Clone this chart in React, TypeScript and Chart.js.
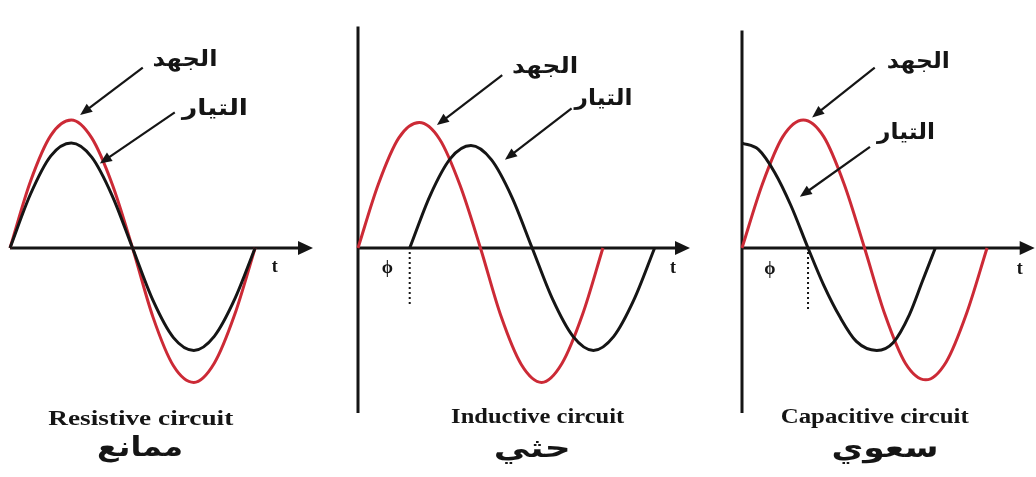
import React, { useEffect, useRef } from "react";
import { Chart, registerables } from "chart.js";

Chart.register(...registerables);

// ---- data (phase angle in degrees, amplitude in relative units) ----
const resistiveT = [0, 30, 60, 90, 120, 150, 180, 210, 240, 270, 300, 330, 360];
const resistiveVoltage = [0, 0.52, 0.88, 1.0, 0.86, 0.5, 0, -0.54, -0.92, -1.05, -0.9, -0.52, 0];
const resistiveCurrentT = [0, 30, 60, 90, 120, 150, 180, 210, 240, 270, 300, 330, 360];
const resistiveCurrent = [0, 0.42, 0.72, 0.82, 0.71, 0.41, 0, -0.41, -0.7, -0.8, -0.69, -0.4, 0];

const inductiveT = [0, 30, 60, 90, 120, 150, 180, 210, 240, 270, 300, 330, 360];
const inductiveVoltage = [0, 0.5, 0.86, 0.98, 0.85, 0.49, 0, -0.53, -0.91, -1.05, -0.9, -0.52, 0];
const inductiveCurrentT = [76, 106, 136, 166, 196, 226, 256, 286, 316, 346, 376, 406, 436];
const inductiveCurrent = [0, 0.41, 0.7, 0.8, 0.69, 0.4, 0, -0.4, -0.69, -0.8, -0.69, -0.4, 0];

const capacitiveT = [0, 30, 60, 90, 120, 150, 180, 210, 240, 270, 300, 330, 360];
const capacitiveVoltage = [0, 0.5, 0.87, 1.0, 0.87, 0.5, 0, -0.52, -0.9, -1.03, -0.89, -0.51, 0];
const capacitiveCurrentT = [0, 24, 48, 72, 97, 120, 144, 168, 198, 222, 246, 265, 284];
const capacitiveCurrent = [0.82, 0.77, 0.59, 0.33, 0, -0.29, -0.54, -0.73, -0.8, -0.74, -0.52, -0.26, 0];

const voltageLabel = "الجهد";
const currentLabel = "التيار";
const captions = ["Resistive circuit", "Inductive circuit", "Capacitive circuit"];
const arabicCaptions = ["ممانع", "حثي", "سعوي"];

const RED = "#cc2a36";
const BLACK = "#151515";

type Pt = [number, number];
type PanelCfg = {
  left: number;
  width: number;
  padding: { left: number; right: number; top: number; bottom: number };
  xMax: number;
  yAxis: null | [number, number];
  phi: null | { labelT: number; dotT: number; dotBottom: number };
  tLabel: Pt;
  vLabel: { at: Pt; w: number; from: Pt; to: Pt };
  iLabel: { at: Pt; w: number; from: Pt; to: Pt };
  caption: { at: Pt; w: number };
  arCaption: { at: Pt; w: number };
  vT: number[];
  v: number[];
  iT: number[];
  i: number[];
};

const panels: PanelCfg[] = [
  {
    left: 0,
    width: 345,
    padding: { left: 10, right: 32, top: 4.8, bottom: 24.2 },
    xMax: 445,
    yAxis: null,
    phi: null,
    tLabel: [389, -0.15],
    vLabel: { at: [257, 1.47], w: 65, from: [195, 1.41], to: [103, 1.04] },
    iLabel: { at: [301, 1.08], w: 66, from: [242, 1.06], to: [132, 0.66] },
    caption: { at: [192, -1.34], w: 185 },
    arCaption: { at: [191, -1.57], w: 86 },
    vT: resistiveT,
    v: resistiveVoltage,
    iT: resistiveCurrentT,
    i: resistiveCurrent,
  },
  {
    left: 340,
    width: 360,
    padding: { left: 18, right: 10, top: 4.8, bottom: 24.2 },
    xMax: 488,
    yAxis: [1.73, -1.29],
    phi: { labelT: 43, dotT: 76, dotBottom: -0.45 },
    tLabel: [463, -0.16],
    vLabel: { at: [275, 1.41], w: 66, from: [212, 1.35], to: [116, 0.96] },
    iLabel: { at: [361, 1.16], w: 58, from: [314, 1.09], to: [216, 0.69] },
    caption: { at: [264, -1.33], w: 173 },
    arCaption: { at: [256, -1.58], w: 77 },
    vT: inductiveT,
    v: inductiveVoltage,
    iT: inductiveCurrentT,
    i: inductiveCurrent,
  },
  {
    left: 725,
    width: 311,
    padding: { left: 17, right: 1.3, top: 4.8, bottom: 24.2 },
    xMax: 430,
    yAxis: [1.7, -1.29],
    phi: { labelT: 41, dotT: 97, dotBottom: -0.48 },
    tLabel: [408, -0.17],
    vLabel: { at: [259, 1.45], w: 63, from: [195, 1.41], to: [103, 1.02] },
    iLabel: { at: [241, 0.9], w: 58, from: [188, 0.79], to: [85, 0.4] },
    caption: { at: [195, -1.33], w: 188 },
    arCaption: { at: [210, -1.58], w: 107 },
    vT: capacitiveT,
    v: capacitiveVoltage,
    iT: capacitiveCurrentT,
    i: capacitiveCurrent,
  },
];

function fittedText(
  ctx: CanvasRenderingContext2D,
  text: string,
  cx: number,
  cy: number,
  w: number,
  font: string
) {
  ctx.save();
  ctx.font = font;
  ctx.textAlign = "center";
  ctx.textBaseline = "middle";
  const m = ctx.measureText(text).width || 1;
  ctx.translate(cx, cy);
  ctx.scale(w / m, 1);
  ctx.fillStyle = BLACK;
  ctx.fillText(text, 0, 0);
  ctx.restore();
}

function arrow(ctx: CanvasRenderingContext2D, x1: number, y1: number, x2: number, y2: number) {
  const ang = Math.atan2(y2 - y1, x2 - x1);
  const hl = 12;
  const hw = 5;
  ctx.save();
  ctx.strokeStyle = BLACK;
  ctx.fillStyle = BLACK;
  ctx.lineWidth = 2.2;
  ctx.beginPath();
  ctx.moveTo(x1, y1);
  ctx.lineTo(x2 - Math.cos(ang) * hl * 0.8, y2 - Math.sin(ang) * hl * 0.8);
  ctx.stroke();
  ctx.beginPath();
  ctx.moveTo(x2, y2);
  ctx.lineTo(x2 - Math.cos(ang) * hl + Math.sin(ang) * hw, y2 - Math.sin(ang) * hl - Math.cos(ang) * hw);
  ctx.lineTo(x2 - Math.cos(ang) * hl - Math.sin(ang) * hw, y2 - Math.sin(ang) * hl + Math.cos(ang) * hw);
  ctx.closePath();
  ctx.fill();
  ctx.restore();
}

function Panel({ cfg, idx }: { cfg: PanelCfg; idx: number }) {
  const ref = useRef<HTMLCanvasElement | null>(null);
  useEffect(() => {
    if (!ref.current) return;
    const plugin = {
      id: "diagram" + idx,
      beforeDatasetsDraw(chart: any) {
        const ctx: CanvasRenderingContext2D = chart.ctx;
        const xs = chart.scales.x;
        const ys = chart.scales.y;
        const y0 = ys.getPixelForValue(0);
        const x0 = xs.getPixelForValue(0);
        const xe = xs.getPixelForValue(cfg.xMax);
        ctx.save();
        ctx.strokeStyle = BLACK;
        ctx.fillStyle = BLACK;
        ctx.lineWidth = 3;
        ctx.beginPath();
        ctx.moveTo(x0, y0);
        ctx.lineTo(xe - 10, y0);
        ctx.stroke();
        ctx.beginPath();
        ctx.moveTo(xe, y0);
        ctx.lineTo(xe - 15, y0 - 7);
        ctx.lineTo(xe - 15, y0 + 7);
        ctx.closePath();
        ctx.fill();
        if (cfg.yAxis) {
          ctx.beginPath();
          ctx.moveTo(x0, ys.getPixelForValue(cfg.yAxis[0]));
          ctx.lineTo(x0, ys.getPixelForValue(cfg.yAxis[1]));
          ctx.stroke();
        }
        if (cfg.phi) {
          const xd = xs.getPixelForValue(cfg.phi.dotT);
          ctx.lineWidth = 2;
          ctx.setLineDash([2, 3]);
          ctx.beginPath();
          ctx.moveTo(xd, y0 + 4);
          ctx.lineTo(xd, ys.getPixelForValue(cfg.phi.dotBottom));
          ctx.stroke();
          ctx.setLineDash([]);
        }
        ctx.restore();
      },
      afterDatasetsDraw(chart: any) {
        const ctx: CanvasRenderingContext2D = chart.ctx;
        const xs = chart.scales.x;
        const ys = chart.scales.y;
        const P = (p: Pt): Pt => [xs.getPixelForValue(p[0]), ys.getPixelForValue(p[1])];
        const serif = "'Liberation Serif', 'DejaVu Serif', serif";
        const ar = "'DejaVu Sans', 'Noto Sans', sans-serif";
        const tp = P(cfg.tLabel);
        ctx.save();
        ctx.fillStyle = BLACK;
        ctx.font = "bold 18px " + serif;
        ctx.textAlign = "center";
        ctx.textBaseline = "middle";
        ctx.fillText("t", tp[0], tp[1]);
        if (cfg.phi) {
          const pp = P([cfg.phi.labelT, cfg.tLabel[1]]);
          ctx.font = "bold 18px " + serif;
          ctx.fillText("ϕ", pp[0], pp[1]);
        }
        ctx.restore();
        for (const l of [cfg.vLabel, cfg.iLabel]) {
          const a = P(l.at);
          fittedText(ctx, l === cfg.vLabel ? voltageLabel : currentLabel, a[0], a[1], l.w, "bold 22px " + ar);
          const f = P(l.from);
          const t = P(l.to);
          arrow(ctx, f[0], f[1], t[0], t[1]);
        }
        const c = P(cfg.caption.at);
        fittedText(ctx, captions[idx], c[0], c[1], cfg.caption.w, "bold 20px " + serif);
        const ac = P(cfg.arCaption.at);
        fittedText(ctx, arabicCaptions[idx], ac[0], ac[1], cfg.arCaption.w, "bold 27px " + ar);
      },
    };
    const chart = new Chart(ref.current, {
      type: "line",
      data: {
        datasets: [
          {
            label: currentLabel,
            data: cfg.iT.map((t, k) => ({ x: t, y: cfg.i[k] })),
            borderColor: BLACK,
            borderWidth: 3,
            pointRadius: 0,
            cubicInterpolationMode: "monotone",
            clip: false as any,
            order: 0,
          },
          {
            label: voltageLabel,
            data: cfg.vT.map((t, k) => ({ x: t, y: cfg.v[k] })),
            borderColor: RED,
            borderWidth: 3,
            pointRadius: 0,
            cubicInterpolationMode: "monotone",
            clip: false as any,
            order: 1,
          },
        ],
      },
      options: {
        responsive: false,
        animation: false,
        layout: { padding: cfg.padding },
        plugins: { legend: { display: false }, tooltip: { enabled: false }, title: { display: false } },
        events: [],
        scales: {
          x: { type: "linear", min: 0, max: cfg.xMax, display: false },
          y: { type: "linear", min: -1.6, max: 1.9, display: false },
        },
      },
      plugins: [plugin],
    } as any);
    return () => chart.destroy();
  }, [cfg, idx]);
  return (
    <canvas
      ref={ref}
      width={cfg.width}
      height={477}
      style={{ position: "absolute", left: cfg.left, top: 0, width: cfg.width, height: 477 }}
    />
  );
}

export default function App() {
  return (
    <div style={{ position: "fixed", left: 0, top: 0, width: 1036, height: 477, background: "#ffffff", overflow: "hidden" }}>
      {panels.map((p, k) => (
        <Panel key={k} cfg={p} idx={k} />
      ))}
    </div>
  );
}
